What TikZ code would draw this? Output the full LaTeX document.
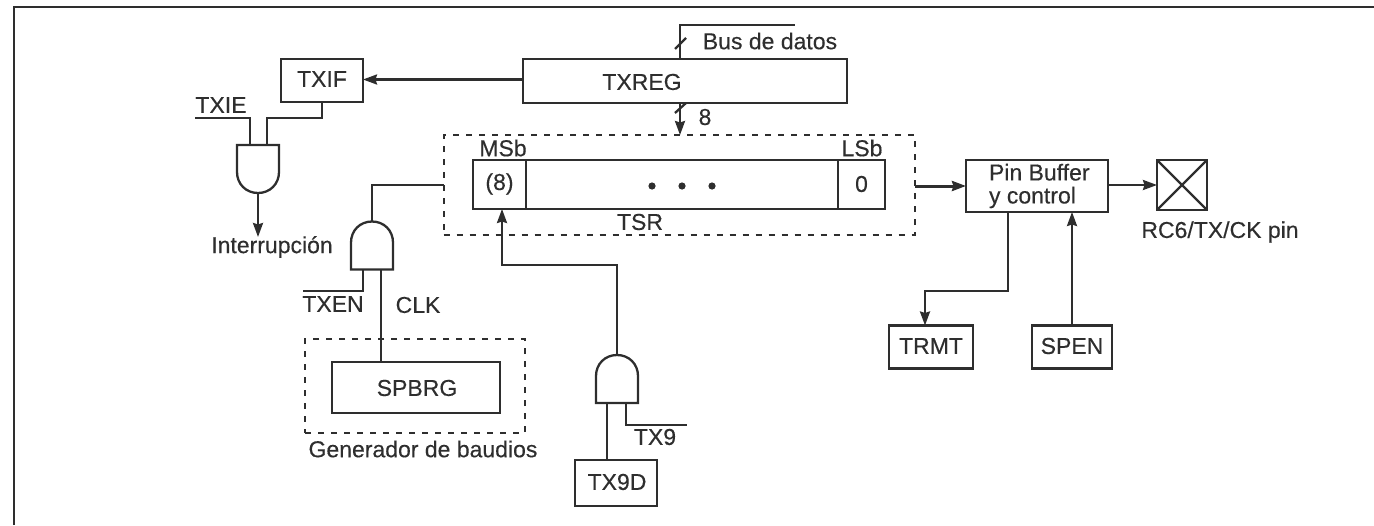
\documentclass[tikz,border=0pt]{standalone}
\usepackage{fontspec}
\setmainfont{Liberation Sans}
\newfontfamily\lblfont{Liberation Sans}[FakeBold=0.35]
\usetikzlibrary{arrows.meta}
\definecolor{ink}{HTML}{2E2E2E}
\tikzset{
  box/.style={draw=ink,line width=2.3pt,inner sep=0pt,outer sep=0pt},
  framebox/.style={draw=ink,line width=2pt,dash pattern=on 6pt off 7pt,inner sep=0pt,outer sep=0pt},
  gatebox/.style={inner sep=0pt,outer sep=0pt,minimum width=42pt,minimum height=48pt},
  lbl/.style={text=ink,inner sep=0pt,outer sep=0pt,font=\lblfont\fontsize{23}{23}\selectfont},
  wire/.style={draw=ink,line width=2.3pt},
  flow/.style={wire,-{Stealth[length=14pt,width=10pt,inset=1.5pt]}},
}
% dome at the bottom / dome on top
\newcommand{\gatedown}[1]{\draw[wire] (#1.north west) -- (#1.north east) -- ++(0,27)
  .. controls +(0,12) and +(12,0) .. ++(-21,21) .. controls +(-12,0) and +(0,12) .. ++(-21,-21) -- cycle;}
\newcommand{\gateup}[1]{\draw[wire] (#1.south west) -- (#1.south east) -- ++(0,-27)
  .. controls +(0,-12) and +(12,0) .. ++(-21,-21) .. controls +(-12,0) and +(0,-12) .. ++(-21,21) -- cycle;}
\begin{document}
\begin{tikzpicture}[x=1pt,y=-1pt]
\useasboundingbox (0,0) rectangle (1374,525);
\draw[wire,line width=2.8pt] (14,525) -- (14,7) -- (1374,7);
% registers
\node[box,minimum width=82pt,minimum height=43pt] (txif) at (322,80.5) {};
\node[lbl] (txiftxt) at (322,79) {TXIF};
\node[box,minimum width=324pt,minimum height=44pt] (txreg) at (685,81) {};
\node[lbl] (txregtxt) at (642,82) {TXREG};
\node[box,minimum width=53pt,minimum height=49pt] (msb) at (499.5,184.5) {};
\node[lbl] (msbtxt) at (499.5,184) {(8)};
\node[box,minimum width=312pt,minimum height=49pt] (mid) at (682,184.5) {};
\node[box,minimum width=47pt,minimum height=49pt] (lsb) at (861.5,184.5) {};
\node[lbl] (lsbtxt) at (861.5,184) {0};
\node[framebox,minimum width=471pt,minimum height=100pt] (tsrframe) at (679,185) {};
\node[framebox,minimum width=220pt,minimum height=94pt] (baudframe) at (415,386) {};
\node[box,minimum width=168pt,minimum height=51pt] (spbrg) at (416,387.5) {};
\node[lbl] (spbrgtxt) at (417,388) {SPBRG};
\node[box,minimum width=82pt,minimum height=46pt] (tx9d) at (616,483) {};
\node[lbl] (tx9dtxt) at (617,482) {TX9D};
\node[box,minimum width=142pt,minimum height=52pt] (pinbuf) at (1037,186) {};
\node[lbl,align=left,anchor=west] (pintxt) at (989,186) {Pin Buffer\\y control};
\node[box,minimum width=50pt,minimum height=50pt] (pin) at (1182,185) {};
\draw[wire] (pin.north west) -- (pin.south east) (pin.north east) -- (pin.south west);
\node[box,minimum width=84pt,minimum height=43pt] (trmt) at (931,347) {};
\node[lbl] (trmttxt) at (931,346) {TRMT};
\node[box,minimum width=80pt,minimum height=43pt] (spen) at (1072,347) {};
\node[lbl] (spentxt) at (1072,346) {SPEN};
% gates
\node[gatebox] (andie) at (258,169) {};
\gatedown{andie}
\node[gatebox] (andclk) at (372,245.5) {};
\gateup{andclk}
\node[gatebox] (andtx) at (617,379) {};
\gateup{andtx}
% free ends
\coordinate (busx) at (680,25);
\coordinate (busend) at (795,25);
\coordinate (ifline) at (450,79.5);
\coordinate (ieend) at (195,118);
\coordinate (iein) at (250,118);
\coordinate (ifin) at (267,118);
\coordinate (enend) at (303,291);
\coordinate (enin) at (363,291);
\coordinate (clkin) at (381,291);
\coordinate (loadx) at (502,265);
\coordinate (dataend) at (607,430);
\coordinate (ninein) at (626,425);
\coordinate (nineend) at (687,425);
\coordinate (intend) at (258,237);
\coordinate (flagx) at (1008,291);
\coordinate (flagy) at (925,291);
% connectors
\draw[wire] (busx |- txreg.north) -- (busx) -- (busend);
\draw[wire] (675,49) -- (686,38);
\draw[flow] (ifline -| txreg.west) -- (ifline -| txif.east);
\draw[flow] (busx |- txreg.south) -- (busx |- tsrframe.north);
\draw[wire] (675,113) -- (686,103);
\draw[wire] (ieend) -- (iein) -- (iein |- andie.north);
\draw[wire] (txif.south) |- (ifin) -- (ifin |- andie.north);
\draw[flow] (andie.south) -- (intend);
\draw[wire] (andclk.north) |- (tsrframe.west);
\draw[wire] (enend) -- (enin) -- (enin |- andclk.south);
\draw[wire] (clkin |- andclk.south) -- (clkin |- spbrg.north);
\draw[flow] (andtx.north) |- (loadx) -- (loadx |- msb.south);
\draw[wire] (dataend |- andtx.south) -- (dataend |- tx9d.north);
\draw[wire] (ninein |- andtx.south) -- (ninein) -- (nineend);
\draw[flow,line width=3pt] (tsrframe.east |- pinbuf.west) -- (pinbuf.west);
\draw[flow] (pinbuf.east |- pin.west) -- (pin.west);
\draw[flow] (flagx |- pinbuf.south) -- (flagx) -- (flagy) -- (flagy |- trmt.north);
\draw[flow] (spen.north) -- (spen.north |- pinbuf.south);
% labels
\node[lbl] (bustxt) at (770,41) {Bus de datos};
\node[lbl] (eighttxt) at (705,117) {8};
\node[lbl] (ietxt) at (221,105) {TXIE};
\node[lbl] (inttxt) at (272,247) {Interrupción};
\node[lbl] (msbname) at (503,148) {MSb};
\node[lbl] (lsbname) at (862,148) {LSb};
\node[lbl] (tsrtxt) at (640,222) {TSR};
\node[lbl] (entxt) at (333,304) {TXEN};
\node[lbl] (clktxt) at (418,305) {CLK};
\node[lbl] (gentxt) at (423,449) {Generador de baudios};
\node[lbl] (ninetxt) at (655,437) {TX9};
\node[lbl] (pintag) at (1220,232) {RC6/TX/CK pin};
\foreach \dotx in {652,682,712} {
  \fill[ink] (\dotx,186) circle (3.6pt);
}
\end{tikzpicture}
\end{document}
